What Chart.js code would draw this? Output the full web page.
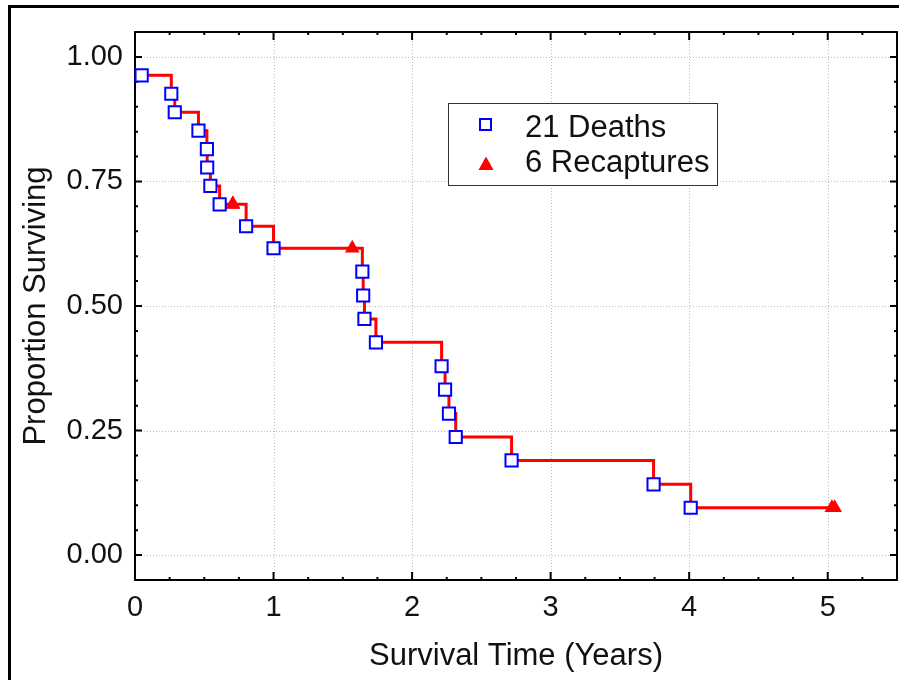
<!DOCTYPE html>
<html>
<head>
<meta charset="utf-8">
<script src="https://cdn.jsdelivr.net/npm/chart.js@4.4.1/dist/chart.umd.min.js"></script>
<style>
  html, body { margin: 0; padding: 0; background: #fff; overflow: hidden; }
  #frame { position: absolute; left: 8px; top: 5px; width: 1000px; height: 1000px;
           border-top: 3px solid #000; border-left: 3px solid #000; }
  #myChart { position: absolute; left: 0; top: 0; }
</style>
</head>
<body>
<div id="frame"></div>
<canvas id="myChart" width="899" height="680"></canvas>
<script>
// deaths: time (years) and proportion surviving after the death
var deathTimes = [0.048, 0.262, 0.287, 0.458, 0.519, 0.521, 0.544, 0.611, 0.802, 1.000,
                  1.641, 1.647, 1.656, 1.739, 2.213, 2.238, 2.266, 2.315, 2.718, 3.743, 4.011];
var deathSurv  = [0.963, 0.926, 0.889, 0.852, 0.815, 0.778, 0.741, 0.704, 0.660, 0.616,
                  0.569, 0.521, 0.474, 0.427, 0.379, 0.332, 0.284, 0.237, 0.190, 0.142, 0.095];
// recaptures (censored)
var recapTimes = [0.706, 0.706, 0.706, 1.568, 5.03, 5.05];
var recapSurv  = [0.704, 0.704, 0.704, 0.616, 0.095, 0.095];

var xTicks = [0, 1, 2, 3, 4, 5];
var yTicks = [0, 0.25, 0.5, 0.75, 1.0];

var FONT = '"Liberation Sans", Arial, sans-serif';

var deaths = deathTimes.map(function (t, i) { return { x: t, y: deathSurv[i] }; });
var recaps = recapTimes.map(function (t, i) { return { x: t, y: recapSurv[i] }; });
var curve = deaths.concat(recaps).sort(function (a, b) { return a.x - b.x; });

// dotted grid, box and inward ticks
var axesBox = {
    id: 'axesBox',
    beforeDatasetsDraw: function (chart) {
        var ctx = chart.ctx, a = chart.chartArea, xs = chart.scales.x, ys = chart.scales.y;
        ctx.save();
        ctx.strokeStyle = '#bdbdbd';
        ctx.lineWidth = 1;
        ctx.setLineDash([1, 2]);
        xTicks.forEach(function (v) {
            if (v === xs.min) return;
            var px = Math.round(xs.getPixelForValue(v)) + 0.5;
            ctx.beginPath(); ctx.moveTo(px, a.top); ctx.lineTo(px, a.bottom); ctx.stroke();
        });
        yTicks.forEach(function (v) {
            var py = Math.round(ys.getPixelForValue(v)) + 0.5;
            ctx.beginPath(); ctx.moveTo(a.left, py); ctx.lineTo(a.right, py); ctx.stroke();
        });
        ctx.setLineDash([]);

        ctx.strokeStyle = '#000';
        ctx.lineWidth = 2;
        ctx.strokeRect(a.left, a.top, a.right - a.left, a.bottom - a.top);

        // x ticks (bottom and top)
        for (var t = 0; t <= xs.max + 1e-9; t += 0.25) {
            var major = Math.abs(t - Math.round(t)) < 1e-9;
            var len = major ? 8 : 3;
            var px = xs.getPixelForValue(t);
            ctx.beginPath();
            ctx.moveTo(px, a.bottom); ctx.lineTo(px, a.bottom - len);
            ctx.moveTo(px, a.top); ctx.lineTo(px, a.top + len);
            ctx.stroke();
        }
        // y ticks (left and right)
        for (var k = -1; k <= 21; k++) {
            var v = k * 0.05;
            var maj = k % 5 === 0;
            var l2 = maj ? 7 : 3;
            var py = ys.getPixelForValue(v);
            ctx.beginPath();
            ctx.moveTo(a.left, py); ctx.lineTo(a.left + l2, py);
            ctx.moveTo(a.right, py); ctx.lineTo(a.right - l2, py);
            ctx.stroke();
        }
        ctx.restore();
    },
    afterDraw: function (chart) {
        var ctx = chart.ctx;
        var ds = chart.data.datasets;
        ctx.save();
        ctx.fillStyle = '#fff';
        ctx.fillRect(448, 103, 269, 82);
        ctx.strokeStyle = '#333';
        ctx.lineWidth = 1;
        ctx.strokeRect(448.5, 103.5, 269, 82);

        // square
        ctx.strokeStyle = ds[0].borderColor;
        ctx.lineWidth = 2;
        ctx.strokeRect(480, 119, 11, 11);
        // triangle
        ctx.fillStyle = ds[1].backgroundColor;
        ctx.beginPath();
        ctx.moveTo(486, 156.5); ctx.lineTo(493.5, 170); ctx.lineTo(478.5, 170);
        ctx.closePath(); ctx.fill();

        ctx.fillStyle = '#111';
        ctx.font = '31px ' + FONT;
        ctx.textBaseline = 'alphabetic';
        ctx.fillText(ds[0].label, 525, 137);
        ctx.fillText(ds[1].label, 525, 172);
        ctx.restore();
    }
};

var ctx = document.getElementById('myChart').getContext('2d');
var chart = new Chart(ctx, {
    type: 'scatter',
    data: {
        datasets: [{
            label: '21 Deaths',
            data: deaths,
            pointStyle: 'rect',
            pointRadius: 8.6,
            pointBorderWidth: 2,
            borderColor: '#0000ff',
            backgroundColor: '#ffffff',
            clip: false,
            order: 0
        }, {
            label: '6 Recaptures',
            data: recaps,
            pointStyle: 'triangle',
            pointRadius: 8.5,
            pointBorderWidth: 0,
            borderColor: '#ff0000',
            backgroundColor: '#ff0000',
            clip: false,
            order: 1
        }, {
            label: 'curve',
            data: curve,
            showLine: true,
            stepped: 'before',
            borderColor: '#ff0000',
            borderWidth: 3,
            pointRadius: 0,
            fill: false,
            clip: false,
            order: 2
        }]
    },
    options: {
        responsive: false,
        animation: false,
        devicePixelRatio: 1,
        layout: { autoPadding: false, padding: { left: 0, top: 32, right: 2, bottom: 0 } },
        plugins: { legend: { display: false }, tooltip: { enabled: false } },
        scales: {
            x: {
                type: 'linear', min: 0, max: 5.5,
                grid: { display: false, drawTicks: false },
                border: { display: false },
                afterBuildTicks: function (s) { s.ticks = xTicks.map(function (v) { return { value: v }; }); },
                afterFit: function (s) { s.height = 100; },
                ticks: { padding: 11, color: '#111', font: { family: FONT, size: 29 },
                         callback: function (v) { return String(v); } },
                title: { display: true, text: 'Survival Time (Years)', color: '#111',
                         font: { family: FONT, size: 31 }, padding: { top: 0, bottom: 5 } }
            },
            y: {
                type: 'linear', min: -0.05, max: 1.05,
                grid: { display: false, drawTicks: false },
                border: { display: false },
                afterBuildTicks: function (s) { s.ticks = yTicks.map(function (v) { return { value: v }; }); },
                afterFit: function (s) { s.width = 135; },
                ticks: { padding: 12, color: '#111', font: { family: FONT, size: 29 },
                         callback: function (v) { return v.toFixed(2); } },
                title: { display: true, text: 'Proportion Surviving', color: '#111',
                         font: { family: FONT, size: 31 }, padding: { top: 18, bottom: 0 } }
            }
        }
    },
    plugins: [axesBox]
});
</script>
</body>
</html>
